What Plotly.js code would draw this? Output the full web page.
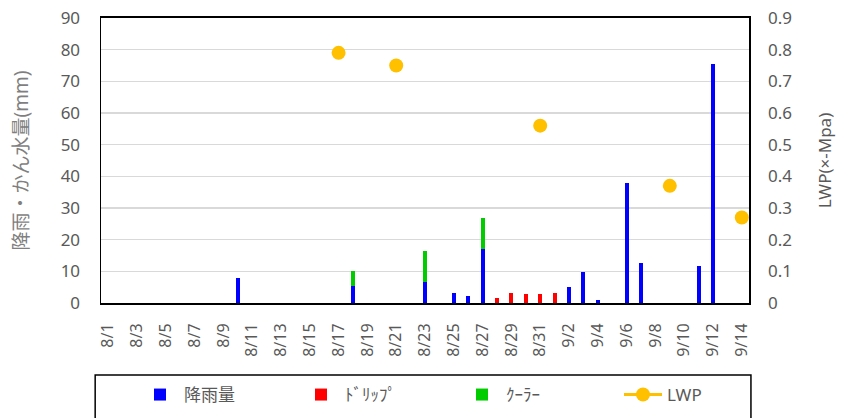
<!DOCTYPE html>
<html>
<head>
<meta charset="utf-8">
<script src="https://cdn.plot.ly/plotly-3.0.1.min.js"></script>
<style>html,body{margin:0;padding:0;background:#fff;}#chart{width:852px;height:418px;}</style>
</head>
<body>
<div id="chart"></div>
<script>
const dates = ['8/1','8/2','8/3','8/4','8/5','8/6','8/7','8/8','8/9','8/10','8/11','8/12','8/13','8/14','8/15','8/16','8/17','8/18','8/19','8/20','8/21','8/22','8/23','8/24','8/25','8/26','8/27','8/28','8/29','8/30','8/31','9/1','9/2','9/3','9/4','9/5','9/6','9/7','9/8','9/9','9/10','9/11','9/12','9/13','9/14'];
const tickLabels = ['8/1','8/3','8/5','8/7','8/9','8/11','8/13','8/15','8/17','8/19','8/21','8/23','8/25','8/27','8/29','8/31','9/2','9/4','9/6','9/8','9/10','9/12','9/14'];

const rainDates  = ['8/10','8/18','8/23','8/25','8/26','8/27','9/2','9/3','9/4','9/6','9/7','9/11','9/12'];
const rainValues = [8.0, 5.5, 6.5, 3.1, 2.3, 17.0, 4.9, 9.9, 0.8, 37.8, 12.5, 11.7, 75.5];

const dripDates  = ['8/28','8/29','8/30','8/31','9/1'];
const dripValues = [1.6, 3.1, 2.7, 2.7, 3.2];

const coolerDates  = ['8/18','8/23','8/27'];
const coolerValues = [4.7, 9.8, 9.7];

const lwpDates  = ['8/17','8/21','8/31','9/9','9/14'];
const lwpValues = [0.79, 0.75, 0.56, 0.37, 0.27];

const lwpFull = dates.map(d => { const i = lwpDates.indexOf(d); return i >= 0 ? lwpValues[i] : null; });

const FONT = 'Noto Sans, Noto Sans CJK JP, sans-serif';
const GRAY = '#595959';
const BW = 0.28;

const traces = [
  {type:'bar', name:'降雨量', x:rainDates, y:rainValues, width:BW, marker:{color:'#0000FF'}},
  {type:'bar', name:'ﾄﾞﾘｯﾌﾟ', x:dripDates, y:dripValues, width:BW, marker:{color:'#FF0000'}},
  {type:'bar', name:'ｸｰﾗｰ', x:coolerDates, y:coolerValues, width:BW, marker:{color:'#00CC00'}},
  {type:'scatter', mode:'lines+markers', name:'LWP', x:dates, y:lwpFull, yaxis:'y2', connectgaps:false,
   line:{color:'#FFC000', width:3}, marker:{color:'#FFC000', size:14}}
];

const layout = {
  width:852, height:418,
  margin:{l:101, r:103, t:18, b:115},
  paper_bgcolor:'#fff', plot_bgcolor:'#fff',
  barmode:'stack',
  font:{family:FONT, color:GRAY, size:17},
  showlegend:true,
  legend:{orientation:'h', xref:'container', yref:'container', x:136/852, xanchor:'left', y:(418-395)/418, yanchor:'middle',
          entrywidth:108, itemwidth:38, font:{size:17, color:GRAY}, bgcolor:'rgba(0,0,0,0)', traceorder:'normal'},
  xaxis:{type:'category', categoryorder:'array', categoryarray:dates, automargin:false,
         tickvals:tickLabels, ticktext:tickLabels, tickangle:-90, ticklabelstandoff:12,
         tickfont:{size:16, color:GRAY}, showgrid:false, ticks:'',
         showline:true, linecolor:'#000', linewidth:2, mirror:true, fixedrange:true,
         range:[-0.5, 44.5]},
  yaxis:{range:[0,90], dtick:10, showgrid:true, gridcolor:'#d9d9d9', gridwidth:1.5, automargin:false,
         zeroline:false, showline:true, linecolor:'#000', linewidth:1.5, mirror:true,
         tickfont:{size:17, color:GRAY}, ticks:'', ticklabelstandoff:16,
         title:{text:'降雨・かん水量(mm)', font:{size:19, color:'#7f7f7f'}, standoff:27}},
  yaxis2:{range:[0,0.9], dtick:0.1, overlaying:'y', side:'right', showgrid:false, automargin:false,
          zeroline:false, tickfont:{size:17, color:GRAY}, ticks:'', ticklabelstandoff:18,
          title:{text:'LWP(×-Mpa)', font:{size:17, color:GRAY}, standoff:27}},
  shapes:[{type:'rect', xref:'paper', yref:'paper', x0:-0.009, x1:1.003, y0:-0.43, y1:-0.253,
           line:{color:'#000', width:1.5}, fillcolor:'rgba(0,0,0,0)', layer:'below'}]
};

Plotly.newPlot('chart', traces, layout, {staticPlot:true, displayModeBar:false});
</script>
</body>
</html>
